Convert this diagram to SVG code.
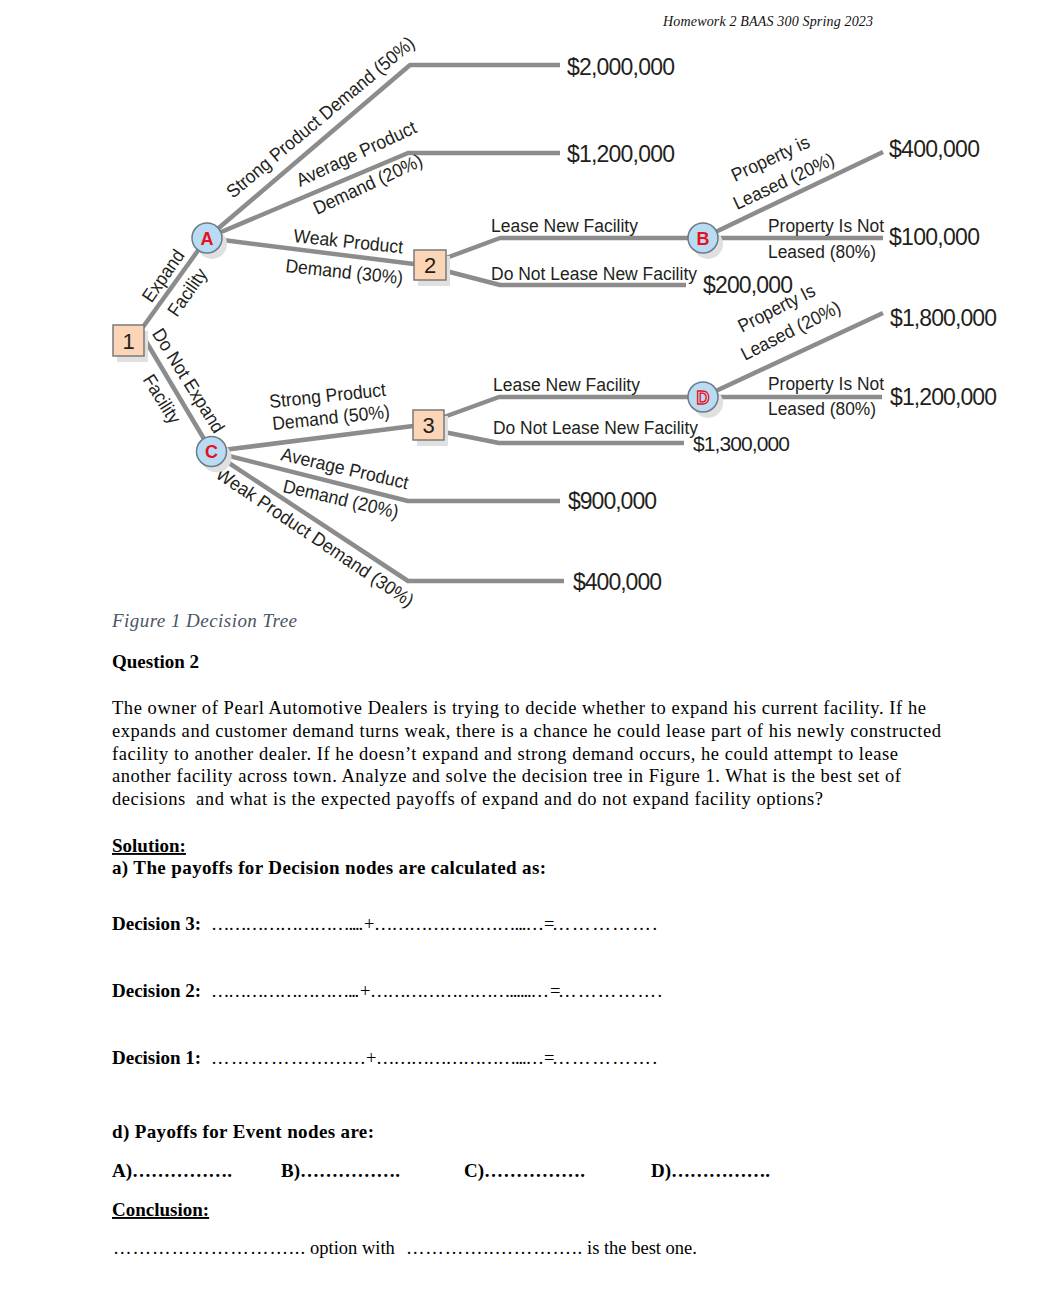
<svg xmlns="http://www.w3.org/2000/svg" width="1064" height="1308" viewBox="0 0 1064 1308">
<style>
.ln{fill:none;stroke:#8c8c8c;stroke-width:4.5;stroke-linejoin:round}
.box{fill:#fbd5b5;stroke:#7a7a7a;stroke-width:1.5}
.sh{fill:#e0e0e0}
.ev{fill:#b9dcf2;stroke:#6b7b88;stroke-width:1.5}
.nl{font-family:"Liberation Sans",Arial,sans-serif;font-size:22px;fill:#231f20;text-anchor:middle}
.rl{font-family:"Liberation Sans",Arial,sans-serif;font-size:18px;font-weight:bold;fill:#e8101a;text-anchor:middle}
.t{font-family:"Liberation Sans",Arial,sans-serif;font-size:18.8px;fill:#231f20}
.tm{text-anchor:middle}
.v{font-family:"Liberation Sans",Arial,sans-serif;font-size:23px;fill:#231f20}
.s{font-family:"Liberation Serif","Times New Roman",serif;font-size:18.5px;fill:#000}
.b{font-weight:bold;font-size:19px}
.u{text-decoration:underline}
.hd{font-family:"Liberation Serif","Times New Roman",serif;font-style:italic;font-size:14px;fill:#111}
.cap{font-family:"Liberation Serif","Times New Roman",serif;font-style:italic;font-size:19px;fill:#4a5566}
</style>

<text class="hd" x="663" y="26" textLength="210">Homework 2 BAAS 300 Spring 2023</text>

<g id="connectors">
<polyline class="ln" points="143,327 207,238"/>
<polyline class="ln" points="144,338 211.5,451.5"/>
<polyline class="ln" points="207,238 410,65 560,65"/>
<polyline class="ln" points="207,238 408,153 560,153"/>
<polyline class="ln" points="207,238 414,264"/>
<polyline class="ln" points="446,258 500,238 703,238"/>
<polyline class="ln" points="446,271 500,285 686,285"/>
<polyline class="ln" points="703,238 883,152"/>
<polyline class="ln" points="703,238 883,238"/>
<polyline class="ln" points="211.5,451.5 413,426"/>
<polyline class="ln" points="211.5,451.5 408,501 560,501"/>
<polyline class="ln" points="211.5,451.5 408,581 564,581"/>
<polyline class="ln" points="444,417 499,397 703,397"/>
<polyline class="ln" points="444,432 499,443 684,443"/>
<polyline class="ln" points="703,397 883,313"/>
<polyline class="ln" points="703,397 882,397"/>
</g>

<g id="edge-labels">
<text class="t tm" transform="translate(168.5,279.5) rotate(-55)" textLength="59" lengthAdjust="spacingAndGlyphs">Expand</text>
<text class="t tm" transform="translate(192.5,296) rotate(-55)" textLength="54" lengthAdjust="spacingAndGlyphs">Facility</text>
<text class="t tm" transform="translate(183,384) rotate(58)" textLength="119" lengthAdjust="spacingAndGlyphs">Do Not Expand</text>
<text class="t tm" transform="translate(156.5,402.5) rotate(58)" textLength="54" lengthAdjust="spacingAndGlyphs">Facility</text>
<text class="t" transform="translate(233,199) rotate(-40)" textLength="239" lengthAdjust="spacingAndGlyphs">Strong Product Demand (50%)</text>
<text class="t" transform="translate(300,187) rotate(-25)" textLength="130" lengthAdjust="spacingAndGlyphs">Average Product</text>
<text class="t" transform="translate(317,215) rotate(-25)" textLength="118" lengthAdjust="spacingAndGlyphs">Demand (20%)</text>
<text class="t" transform="translate(293,242) rotate(6)" textLength="110" lengthAdjust="spacingAndGlyphs">Weak Product</text>
<text class="t" transform="translate(285,272) rotate(6)" textLength="118" lengthAdjust="spacingAndGlyphs">Demand (30%)</text>
<text class="t" x="491" y="232" textLength="147" lengthAdjust="spacingAndGlyphs">Lease New Facility</text>
<text class="t" x="491" y="280" textLength="206" lengthAdjust="spacingAndGlyphs">Do Not Lease New Facility</text>
<text class="t" transform="translate(735,182) rotate(-25)" textLength="84" lengthAdjust="spacingAndGlyphs">Property is</text>
<text class="t" transform="translate(737,210) rotate(-25)" textLength="109" lengthAdjust="spacingAndGlyphs">Leased (20%)</text>
<text class="t" x="768" y="232" textLength="116" lengthAdjust="spacingAndGlyphs">Property Is Not</text>
<text class="t" x="768" y="258" textLength="108" lengthAdjust="spacingAndGlyphs">Leased (80%)</text>
<text class="t" transform="translate(270,408) rotate(-6)" textLength="117" lengthAdjust="spacingAndGlyphs">Strong Product</text>
<text class="t" transform="translate(273,430) rotate(-6)" textLength="118" lengthAdjust="spacingAndGlyphs">Demand (50%)</text>
<text class="t" transform="translate(280,460) rotate(13)" textLength="130" lengthAdjust="spacingAndGlyphs">Average Product</text>
<text class="t" transform="translate(282,492) rotate(13)" textLength="118" lengthAdjust="spacingAndGlyphs">Demand (20%)</text>
<text class="t" transform="translate(214.5,477) rotate(34)" textLength="234" lengthAdjust="spacingAndGlyphs">Weak Product Demand (30%)</text>
<text class="t" x="493" y="391" textLength="147" lengthAdjust="spacingAndGlyphs">Lease New Facility</text>
<text class="t" x="493" y="434" textLength="205" lengthAdjust="spacingAndGlyphs">Do Not Lease New Facility</text>
<text class="t" transform="translate(742,333) rotate(-27)" textLength="84" lengthAdjust="spacingAndGlyphs">Property Is</text>
<text class="t" transform="translate(745,361) rotate(-27)" textLength="109" lengthAdjust="spacingAndGlyphs">Leased (20%)</text>
<text class="t" x="768" y="390" textLength="116" lengthAdjust="spacingAndGlyphs">Property Is Not</text>
<text class="t" x="768" y="415" textLength="108" lengthAdjust="spacingAndGlyphs">Leased (80%)</text>
</g>

<g id="node-1">
<rect class="sh" x="117" y="331" width="31" height="31"/>
<rect class="box" x="113" y="325" width="31" height="31"/>
<text class="nl" x="128.5" y="348.5">1</text>
</g>
<g id="node-2">
<rect class="sh" x="418" y="256" width="32" height="30"/>
<rect class="box" x="414" y="250" width="32" height="30"/>
<text class="nl" x="430" y="273">2</text>
</g>
<g id="node-3">
<rect class="sh" x="417" y="416" width="31" height="30"/>
<rect class="box" x="413" y="410" width="31" height="30"/>
<text class="nl" x="428.5" y="433">3</text>
</g>
<g id="node-A">
<circle class="sh" cx="212" cy="244" r="15"/>
<circle class="ev" cx="207" cy="238" r="15"/>
<text class="rl" x="207" y="244.5">A</text>
</g>
<g id="node-B">
<circle class="sh" cx="708" cy="244" r="15"/>
<circle class="ev" cx="703" cy="238" r="15"/>
<text class="rl" x="703" y="244.5">B</text>
</g>
<g id="node-C">
<circle class="sh" cx="216.5" cy="457.5" r="15"/>
<circle class="ev" cx="211.5" cy="451.5" r="15"/>
<text class="rl" x="211.5" y="458">C</text>
</g>
<g id="node-D">
<circle class="sh" cx="708" cy="403" r="15"/>
<circle class="ev" cx="703" cy="397" r="15"/>
<text class="rl" x="703" y="403.5" style="fill:none;stroke:#e8101a;stroke-width:1.3">D</text>
</g>

<g id="payoffs">
<text class="v" x="567" y="75" textLength="108">$2,000,000</text>
<text class="v" x="567" y="161.5" textLength="108">$1,200,000</text>
<text class="v" x="889" y="157" textLength="91">$400,000</text>
<text class="v" x="889" y="245" textLength="91">$100,000</text>
<text class="v" x="703" y="293" textLength="90">$200,000</text>
<text class="v" x="890" y="325.5" textLength="107">$1,800,000</text>
<text class="v" x="890" y="404.5" textLength="107">$1,200,000</text>
<text class="v" x="693" y="451" textLength="97" style="font-size:21px">$1,300,000</text>
<text class="v" x="568" y="509" textLength="89">$900,000</text>
<text class="v" x="573" y="589.5" textLength="89">$400,000</text>
</g>

<text class="cap" x="112" y="627" textLength="185">Figure 1 Decision Tree</text>
<text class="s b" x="112" y="668">Question 2</text>

<text class="s" x="112" y="714" textLength="814">The owner of Pearl Automotive Dealers is trying to decide whether to expand his current facility. If he</text>
<text class="s" x="112" y="737" textLength="829">expands and customer demand turns weak, there is a chance he could lease part of his newly constructed</text>
<text class="s" x="112" y="759.5" textLength="786">facility to another dealer. If he doesn’t expand and strong demand occurs, he could attempt to lease</text>
<text class="s" x="112" y="782" textLength="789">another facility across town. Analyze and solve the decision tree in Figure 1. What is the best set of</text>
<text class="s" x="112" y="805" textLength="711" xml:space="preserve">decisions  and what is the expected payoffs of expand and do not expand facility options?</text>

<text class="s b u" x="112" y="852">Solution:</text>
<text class="s b" x="112" y="874" textLength="434">a) The payoffs for Decision nodes are calculated as:</text>

<text class="s b" x="112" y="930">Decision 3:</text>
<text class="s" x="211" y="930" textLength="152">……………………....</text>
<text class="s" x="364" y="930">+</text>
<text class="s" x="374" y="930" textLength="170">……………………...…</text>
<text class="s" x="544" y="930">=</text>
<text class="s" x="552" y="930" textLength="105">…………….</text>

<text class="s b" x="112" y="997">Decision 2:</text>
<text class="s" x="211" y="997" textLength="148">……………………...</text>
<text class="s" x="360" y="997">+</text>
<text class="s" x="370" y="997" textLength="179">……………………......…</text>
<text class="s" x="550" y="997">=</text>
<text class="s" x="558" y="997" textLength="104">…………….</text>

<text class="s b" x="112" y="1064">Decision 1:</text>
<text class="s" x="211" y="1064" textLength="154">…………….........</text>
<text class="s" x="366" y="1064">+</text>
<text class="s" x="376" y="1064" textLength="168">……………………...…</text>
<text class="s" x="544" y="1064">=</text>
<text class="s" x="552" y="1064" textLength="105">…………….</text>

<text class="s b" x="112" y="1138" textLength="262">d) Payoffs for Event nodes are:</text>
<text class="s b" x="112" y="1177">A)</text>
<text class="s b" x="132" y="1177" textLength="100">…………….</text>
<text class="s b" x="281" y="1177">B)</text>
<text class="s b" x="300" y="1177" textLength="100">…………….</text>
<text class="s b" x="464" y="1177">C)</text>
<text class="s b" x="484" y="1177" textLength="101">…………….</text>
<text class="s b" x="651" y="1177">D)</text>
<text class="s b" x="671" y="1177" textLength="99">…………….</text>

<text class="s b u" x="112" y="1216">Conclusion:</text>
<text class="s" x="113" y="1254" textLength="192">………………………...</text>
<text class="s" x="310" y="1254">option with</text>
<text class="s" x="406" y="1254" textLength="176">…………..…………..</text>
<text class="s" x="587" y="1254">is the best one.</text>
</svg>
